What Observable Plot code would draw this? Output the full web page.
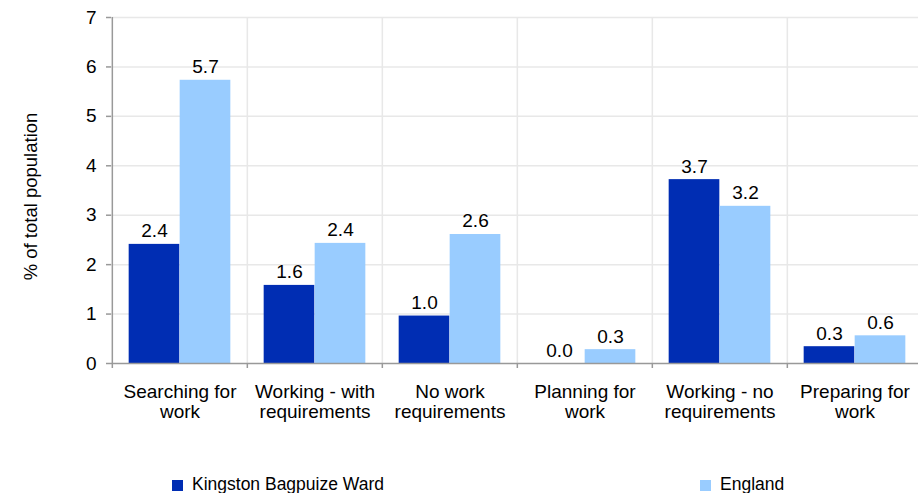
<!DOCTYPE html>
<html><head><meta charset="utf-8">
<script src="https://cdn.jsdelivr.net/npm/d3@7"></script>
<script src="https://cdn.jsdelivr.net/npm/@observablehq/plot@0.6"></script>
<style>
body{margin:0;background:#fff;font-family:"Liberation Sans",Arial,sans-serif;position:relative;width:918px;height:493px;overflow:hidden;}
#legend{position:absolute;top:474px;left:0;width:918px;height:20px;font-size:17.5px;color:#000;}
.item{position:absolute;top:0;height:20px;line-height:20px;white-space:nowrap;}
.sw{display:inline-block;width:11px;height:11px;margin-right:9px;vertical-align:-1px;}
</style></head><body><div id="chart"></div><div id="legend"></div><script>
const categories = ["Searching for\nwork", "Working - with\nrequirements", "No work\nrequirements", "Planning for\nwork", "Working - no\nrequirements", "Preparing for\nwork"];
const seriesNames = ["Kingston Bagpuize Ward", "England"];
const wardValues = [2.41, 1.58, 0.96, 0.0, 3.72, 0.34];
const englandValues = [5.73, 2.43, 2.61, 0.28, 3.18, 0.56];
const yTicks = [0, 1, 2, 3, 4, 5, 6, 7];
const seriesColors = ["#002db3", "#99ccff"];

const W = 918, H = 460;
const mL = 111, mT = 17, mB = H - 363, mR = -5;
const step = (W - mL - mR) / categories.length;
const barW = 51;
const gap = (step - 2 * barW) / 2;
const fmt = d3.format(".1f");

const rows = (vals) => categories.map((c, i) => ({category: c, value: vals[i]}));
const ward = rows(wardValues), eng = rows(englandValues);

const chart = Plot.plot({
  width: W, height: H,
  marginLeft: mL, marginTop: mT, marginBottom: mB, marginRight: mR,
  style: {fontFamily: "Liberation Sans, Arial, sans-serif", fontSize: "18px", color: "#000", background: "#fff"},
  x: {domain: categories, padding: 0, label: null},
  y: {domain: [0, 7], label: null},
  marks: [
    Plot.ruleY(yTicks.slice(1), {stroke: "#e8e8e8", strokeWidth: 1.5}),
    Plot.ruleX(categories.slice(1), {dx: -step / 2, stroke: "#e8e8e8", strokeWidth: 1.5}),
    Plot.barY(ward, {x: "category", y: "value", fill: seriesColors[0], insetLeft: gap, insetRight: step - gap - barW}),
    Plot.barY(eng, {x: "category", y: "value", fill: seriesColors[1], insetLeft: gap + barW, insetRight: gap}),
    Plot.text(ward, {x: "category", y: "value", text: d => fmt(d.value), dx: -barW / 2, dy: -7, lineAnchor: "bottom", fontSize: 19, fill: "#000"}),
    Plot.text(eng, {x: "category", y: "value", text: d => fmt(d.value), dx: barW / 2, dy: -7, lineAnchor: "bottom", fontSize: 19, fill: "#000"}),
    Plot.ruleY([0], {stroke: "#999", strokeWidth: 1.5}),
    Plot.ruleX([categories[0]], {dx: -step / 2, stroke: "#999", strokeWidth: 1.5}),
    Plot.axisY({ticks: yTicks, tickFormat: d3.format("d"), tickSize: 5, tickPadding: 10, stroke: "#999", strokeWidth: 1.5, fontSize: 19, label: null}),
    Plot.axisX({tickSize: 5, tickFormat: () => "", dx: -step / 2, stroke: "#999", strokeWidth: 1.5, label: null}),
    Plot.axisX({tickSize: 0, tickPadding: 20, fontSize: 19, lineHeight: 1.07, label: null}),
    Plot.text(["% of total population"], {frameAnchor: "left", textAnchor: "middle", rotate: -90, dx: -80, dy: 6, fontSize: 18.5, fill: "#000"})
  ]
});
document.getElementById("chart").appendChild(chart);

const legend = document.getElementById("legend");
const legendX = [172, 700];
seriesNames.forEach((name, i) => {
  const it = document.createElement("div");
  it.className = "item";
  it.style.left = legendX[i] + "px";
  it.innerHTML = `<span class="sw" style="background:${seriesColors[i]}"></span>${name}`;
  legend.appendChild(it);
});
</script></body></html>
